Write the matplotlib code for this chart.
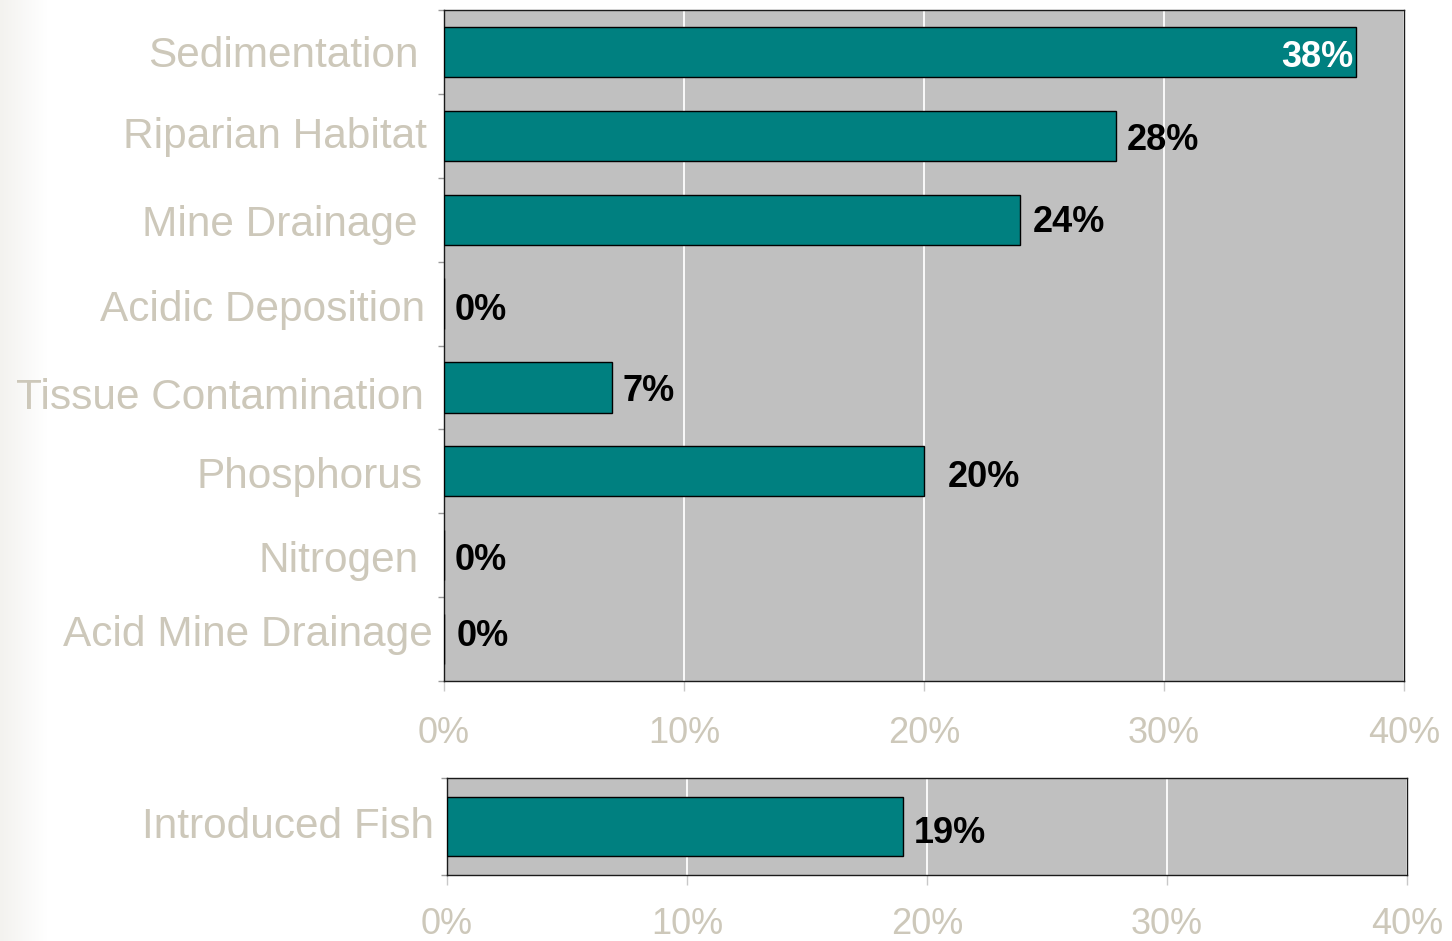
import numpy as np
import matplotlib
matplotlib.use("Agg")
import matplotlib.pyplot as plt
from matplotlib.ticker import FuncFormatter
from matplotlib.transforms import ScaledTranslation

plt.rcParams['font.family'] = ['Liberation Sans', 'DejaVu Sans']

# Stressor prevalence (percent of sites)
categories = ["Sedimentation", "Riparian Habitat", "Mine Drainage", "Acidic Deposition",
              "Tissue Contamination", "Phosphorus", "Nitrogen", "Acid Mine Drainage"]
values = [38, 28, 24, 0, 7, 20, 0, 0]

fish_category = ["Introduced Fish"]
fish_values = [19]

x_ticks = [0, 10, 20, 30, 40]

LABEL_COLOR = "#cdc8ba"
BAR_COLOR = "#008080"
PANEL_BG = "#c0c0c0"
DPI = 100

# small hand placement of category labels (pixels: right, up)
cat_nudge = [(0, 0), (8, 3), (-1, -1), (6, -2), (5, -6), (4, -1), (0, -1), (14, 9)]
fish_nudge = [(12, 4)]
# value label offsets (pixels: right, up)
val_nudge = [(0, -2), (0, -1), (2, 1), (0, -3), (0, 0), (13, -2), (0, -1), (2, 7)]
fish_val_nudge = [(0, -3)]

fig = plt.figure(figsize=(14.52, 9.41), dpi=DPI)
fig.patch.set_facecolor("white")

# faint shading along the left edge of the slide
bg = fig.add_axes([0, 0, 0.032, 1], zorder=-10)
grad = np.linspace(0, 1, 64)[None, :]
bg.imshow(grad, aspect="auto", cmap=matplotlib.colors.LinearSegmentedColormap.from_list(
    "edge", ["#f3f2ef", "#ffffff"]), extent=[0, 1, 0, 1])
bg.axis("off")

pct = FuncFormatter(lambda v, p: f"{v:.0f}%")


def style_axes(ax, n):
    ax.set_facecolor(PANEL_BG)
    ax.set_xlim(0, 40)
    ax.set_ylim(n - 0.5, -0.5)
    ax.set_xticks(x_ticks)
    ax.xaxis.set_major_formatter(pct)
    ax.grid(axis="x", color="white", linewidth=1.3, zorder=0)
    ax.set_axisbelow(True)
    ax.tick_params(axis="x", length=7, width=1, color="#c8c8c8",
                   labelsize=26, labelcolor=LABEL_COLOR, pad=18)
    ax.set_yticks(range(n))
    ax.tick_params(axis="y", which="major", length=0,
                   labelsize=30.5, labelcolor=LABEL_COLOR, pad=18)
    ax.set_yticks(np.arange(n + 1) - 0.5, minor=True)
    ax.tick_params(axis="y", which="minor", length=4, width=1, color="#9a9a9a")
    for s in ax.spines.values():
        s.set_color("#1a1a1a")
        s.set_linewidth(1.0)


def nudge_labels(ax, labels, nudges):
    ax.set_yticklabels(labels)
    for lab, (dx, dy) in zip(ax.get_yticklabels(), nudges):
        lab.set_transform(lab.get_transform() +
                          ScaledTranslation(dx / DPI, dy / DPI, fig.dpi_scale_trans))


def label_bars(ax, vals, nudges, inside_idx=()):
    for i, (v, (dx, dy)) in enumerate(zip(vals, nudges)):
        if i in inside_idx:
            ax.annotate(f"{v}%", (v, i), xytext=(-3 + dx, dy), textcoords="offset pixels",
                        ha="right", va="center_baseline", color="white",
                        fontsize=26, fontweight="bold")
        else:
            ax.annotate(f"{v}%", (v, i), xytext=(11 + dx, dy), textcoords="offset pixels",
                        ha="left", va="center_baseline", color="black",
                        fontsize=26, fontweight="bold")


ax1 = fig.add_axes([444 / 1452, (941 - 681) / 941, 960 / 1452, 671 / 941])
style_axes(ax1, len(categories))
ax1.barh(range(len(categories)), values, height=0.6, color=BAR_COLOR,
         edgecolor="black", linewidth=1.0, zorder=3)
nudge_labels(ax1, categories, cat_nudge)
label_bars(ax1, values, val_nudge, inside_idx=(0,))

ax2 = fig.add_axes([447 / 1452, (941 - 875) / 941, 960 / 1452, 97 / 941])
style_axes(ax2, 1)
ax2.barh(range(1), fish_values, height=0.61, color=BAR_COLOR,
         edgecolor="black", linewidth=1.0, zorder=3)
nudge_labels(ax2, fish_category, fish_nudge)
ax2.tick_params(axis="x", pad=16)
label_bars(ax2, fish_values, fish_val_nudge)

fig.savefig("out.png", dpi=DPI)
